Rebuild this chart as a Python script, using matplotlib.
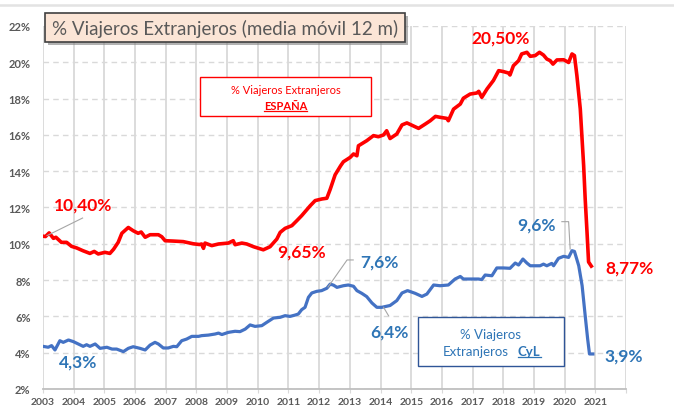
import matplotlib
matplotlib.use("Agg")
import matplotlib.pyplot as plt
from matplotlib.patches import Rectangle
from matplotlib.lines import Line2D

# -------------------------
# Data (% media movil 12 m)
# -------------------------
esp_x = [2003.00, 2003.08, 2003.20, 2003.34, 2003.42, 2003.60, 2003.77, 2003.93, 2004.10, 2004.30,
         2004.53, 2004.67, 2004.80, 2005.02, 2005.18, 2005.30, 2005.45, 2005.57, 2005.78, 2005.94,
         2006.10, 2006.20, 2006.33, 2006.49, 2006.76, 2006.87, 2006.98, 2007.25, 2007.57, 2007.90,
         2008.10, 2008.17, 2008.23, 2008.28, 2008.50, 2008.72, 2009.04, 2009.20, 2009.26, 2009.48,
         2009.64, 2009.86, 2010.18, 2010.40, 2010.62, 2010.73, 2010.89, 2011.11, 2011.27, 2011.43,
         2011.71, 2011.87, 2012.09, 2012.25, 2012.36, 2012.52, 2012.70, 2012.79, 2013.01, 2013.12,
         2013.23, 2013.28, 2013.55, 2013.77, 2013.93, 2014.10, 2014.20, 2014.31, 2014.53, 2014.70,
         2014.86, 2015.24, 2015.46, 2015.62, 2015.79, 2015.94, 2016.16, 2016.21, 2016.38, 2016.60,
         2016.70, 2016.92, 2017.14, 2017.20, 2017.30, 2017.47, 2017.68, 2017.85, 2018.00, 2018.17,
         2018.22, 2018.33, 2018.50, 2018.60, 2018.77, 2018.88, 2019.04, 2019.18, 2019.31, 2019.42,
         2019.53, 2019.62, 2019.75, 2019.97, 2020.13, 2020.24, 2020.32, 2020.40, 2020.51, 2020.62,
         2020.67, 2020.73, 2020.78, 2020.87]
esp_y = [10.42, 10.40, 10.60, 10.30, 10.36, 10.08, 10.08, 9.86, 9.77, 9.62,
         9.47, 9.58, 9.44, 9.53, 9.47, 9.70, 10.08, 10.58, 10.90, 10.72,
         10.58, 10.65, 10.36, 10.50, 10.50, 10.39, 10.17, 10.15, 10.12, 10.00,
         9.96, 9.99, 9.75, 10.04, 9.90, 9.99, 10.04, 10.17, 9.95, 10.04,
         9.99, 9.84, 9.67, 9.84, 10.26, 10.63, 10.85, 11.00, 11.27, 11.55,
         12.10, 12.38, 12.47, 12.51, 13.00, 13.80, 14.30, 14.52, 14.76, 14.95,
         14.85, 15.40, 15.68, 15.96, 15.90, 16.00, 16.23, 15.80, 16.05, 16.55,
         16.66, 16.36, 16.60, 16.78, 17.02, 16.97, 16.91, 16.78, 17.42, 17.70,
         18.02, 18.25, 18.31, 18.40, 18.07, 18.53, 19.00, 19.54, 19.49, 19.41,
         19.30, 19.81, 20.09, 20.46, 20.55, 20.33, 20.37, 20.55, 20.40, 20.18,
         20.09, 19.90, 20.13, 20.14, 19.99, 20.46, 20.37, 19.26, 17.43, 14.30,
         12.47, 10.63, 9.00, 8.77]

cyl_x = [2003.00, 2003.17, 2003.28, 2003.39, 2003.55, 2003.66, 2003.83, 2003.99, 2004.15, 2004.31,
         2004.42, 2004.53, 2004.70, 2004.86, 2005.08, 2005.25, 2005.40, 2005.62, 2005.78, 2005.94,
         2006.16, 2006.33, 2006.49, 2006.65, 2006.76, 2006.92, 2007.08, 2007.25, 2007.36, 2007.52,
         2007.68, 2007.85, 2008.07, 2008.17, 2008.39, 2008.61, 2008.72, 2008.83, 2009.04, 2009.26,
         2009.42, 2009.59, 2009.75, 2009.91, 2010.13, 2010.29, 2010.51, 2010.73, 2010.89, 2011.05,
         2011.21, 2011.32, 2011.43, 2011.54, 2011.65, 2011.76, 2011.92, 2012.08, 2012.25, 2012.36,
         2012.47, 2012.58, 2012.79, 2012.95, 2013.12, 2013.23, 2013.39, 2013.55, 2013.72, 2013.88,
         2014.04, 2014.20, 2014.31, 2014.53, 2014.70, 2014.88, 2015.13, 2015.35, 2015.51, 2015.73,
         2015.94, 2016.21, 2016.43, 2016.60, 2016.70, 2016.92, 2017.19, 2017.30, 2017.41, 2017.63,
         2017.79, 2018.00, 2018.22, 2018.39, 2018.50, 2018.64, 2018.77, 2018.88, 2019.20, 2019.31,
         2019.42, 2019.58, 2019.64, 2019.80, 2019.97, 2020.13, 2020.24, 2020.32, 2020.46, 2020.57,
         2020.67, 2020.75, 2020.81, 2020.92]
cyl_y = [4.35, 4.30, 4.39, 4.15, 4.66, 4.57, 4.70, 4.61, 4.48, 4.35,
         4.44, 4.35, 4.48, 4.24, 4.30, 4.20, 4.20, 4.06, 4.24, 4.33,
         4.24, 4.15, 4.42, 4.57, 4.48, 4.26, 4.26, 4.35, 4.33, 4.66,
         4.75, 4.90, 4.90, 4.94, 4.97, 5.03, 5.08, 5.00, 5.12, 5.18,
         5.16, 5.30, 5.53, 5.45, 5.49, 5.67, 5.91, 5.95, 6.04, 6.00,
         6.07, 6.13, 6.37, 6.50, 7.05, 7.29, 7.38, 7.42, 7.55, 7.78,
         7.72, 7.60, 7.69, 7.73, 7.66, 7.42, 7.27, 7.09, 6.74, 6.50,
         6.50, 6.56, 6.60, 6.87, 7.29, 7.42, 7.27, 7.10, 7.23, 7.73,
         7.69, 7.73, 8.06, 8.20, 8.06, 8.06, 8.06, 8.03, 8.28, 8.24,
         8.67, 8.67, 8.65, 8.94, 8.83, 9.16, 8.94, 8.79, 8.79, 8.88,
         8.79, 8.92, 8.79, 9.20, 9.31, 9.25, 9.62, 9.58, 8.79, 7.69,
         6.04, 4.76, 3.93, 3.93]

years = list(range(2003, 2023))
year_labels = [str(y) for y in range(2003, 2022)] + [""]
y_ticks = list(range(2, 23, 2))
y_labels = [f"{v}%" for v in y_ticks]

title = "% Viajeros Extranjeros (media móvil 12 m)"

RED = "#FF0000"
BLUE = "#4472C4"
BLUE_TXT = "#2E75B6"
GRID = "#D9D9D9"
TXT = "#595959"

plt.rcParams["font.family"] = ["Lato", "DejaVu Sans"]

W, H = 674, 410
fig = plt.figure(figsize=(W / 100, H / 100), dpi=100)


def fx(px):
    return px / W


def fy(py):
    return 1 - py / H


ax = fig.add_axes([fx(43), fy(390), fx(626) - fx(43), fy(27) - fy(390)])
ax.set_xlim(2003, 2022)
ax.set_ylim(2, 22)

ax.set_xticks(years)
ax.set_xticklabels(year_labels)
ax.set_yticks(y_ticks)
ax.set_yticklabels(y_labels)
ax.tick_params(axis="x", length=3, color=GRID, pad=3, labelsize=7.5, labelcolor=TXT)
ax.tick_params(axis="y", length=0, pad=9, labelsize=8, labelcolor=TXT)
for lab in ax.get_xticklabels() + ax.get_yticklabels():
    lab.set_fontweight("bold")

ax.grid(axis="x", color=GRID, linewidth=1.3, linestyle="-")
ax.grid(axis="y", color=GRID, linewidth=1.0, linestyle=(0, (4, 3)))
ax.set_axisbelow(True)
for s in ["left", "right", "top"]:
    ax.spines[s].set_visible(False)
ax.spines["bottom"].set_color("#BFBFBF")
ax.spines["bottom"].set_linewidth(1.3)

ax.plot(esp_x, esp_y, color=RED, linewidth=2.6, solid_joinstyle="round", zorder=3)
ax.plot(cyl_x, cyl_y, color=BLUE, linewidth=2.3, solid_joinstyle="round", zorder=3)

# value labels
lab_kw = dict(fontsize=12.5, fontweight="bold", ha="center", va="center")
ax.text(2004.30, 12.14, "10,40%", color=RED, **lab_kw)
ax.text(2011.44, 9.60, "9,65%", color=RED, **lab_kw)
ax.text(2017.90, 21.34, "20,50%", color=RED, **lab_kw)
ax.text(2022.11, 8.72, "8,77%", color=RED, **lab_kw)
ax.text(2004.14, 3.49, "4,3%", color=BLUE_TXT, **lab_kw)
ax.text(2013.96, 9.00, "7,6%", color=BLUE_TXT, **lab_kw)
ax.text(2014.28, 5.14, "6,4%", color=BLUE_TXT, **lab_kw)
ax.text(2019.07, 11.09, "9,6%", color=BLUE_TXT, **lab_kw)
ax.text(2021.94, 3.82, "3,9%", color=BLUE_TXT, **lab_kw)

# leader lines
lead_kw = dict(color="#A6A6A6", linewidth=0.8, clip_on=False, zorder=4)
ax.plot([2004.29, 2003.13], [11.42, 10.45], **lead_kw)
ax.plot([2013.11, 2012.91, 2012.29], [9.11, 9.11, 7.62], **lead_kw)
ax.plot([2014.10, 2014.26], [6.50, 6.04], **lead_kw)
ax.plot([2019.91, 2020.13, 2020.18], [11.22, 11.22, 9.71], **lead_kw)

# outer frame line at top
fig.add_artist(Line2D([0, 1], [fy(5.5), fy(5.5)], color="#E3E3E3", linewidth=1.8))

# title box with shadow
fig.add_artist(Rectangle((fx(48), fy(46)), fx(405) - fx(45), fy(14) - fy(43),
                         facecolor="#7F7F7F", edgecolor="none", alpha=0.6, zorder=5))
fig.add_artist(Rectangle((fx(45), fy(43)), fx(405) - fx(45), fy(14) - fy(43),
                         facecolor="#FBE5D6", edgecolor="#404040", linewidth=1.2, zorder=6))
fig.text(fx(225), fy(29), title, color=TXT, fontsize=13.5, ha="center", va="center", zorder=7)

# legend boxes
fig.add_artist(Rectangle((fx(200), fy(117)), fx(371) - fx(200), fy(78) - fy(117),
                         facecolor="white", edgecolor=RED, linewidth=1.0, zorder=5))
fig.text(fx(285.5), fy(91), "% Viajeros Extranjeros", color=RED, fontsize=8,
         ha="center", va="center", zorder=6)
t_esp = fig.text(fx(285.5), fy(106.5), "ESPAÑA", color=RED, fontsize=8, fontweight="bold",
                 ha="center", va="center", zorder=6)

fig.add_artist(Rectangle((fx(418), fy(367)), fx(564) - fx(418), fy(318) - fy(367),
                         facecolor="white", edgecolor="#2F5597", linewidth=1.0, zorder=5))
fig.text(fx(491), fy(335), "% Viajeros", color=BLUE_TXT, fontsize=9.5,
         ha="center", va="center", zorder=6)
fig.text(fx(509), fy(352), "Extranjeros", color=BLUE_TXT, fontsize=9.5,
         ha="right", va="center", zorder=6)
t_cyl = fig.text(fx(518), fy(352), "CyL", color=BLUE_TXT, fontsize=9.5, fontweight="bold",
                 ha="left", va="center", zorder=6)

# underline the bold words
fig.canvas.draw()
r = fig.canvas.get_renderer()
for t, col in [(t_esp, RED), (t_cyl, BLUE_TXT)]:
    bb = t.get_window_extent(r)
    yy = bb.y0 + 0.5
    fig.add_artist(Line2D([bb.x0 / W, bb.x1 / W], [yy / H, yy / H], color=col,
                          linewidth=0.9, zorder=6))

fig.savefig("out.png", dpi=100)
